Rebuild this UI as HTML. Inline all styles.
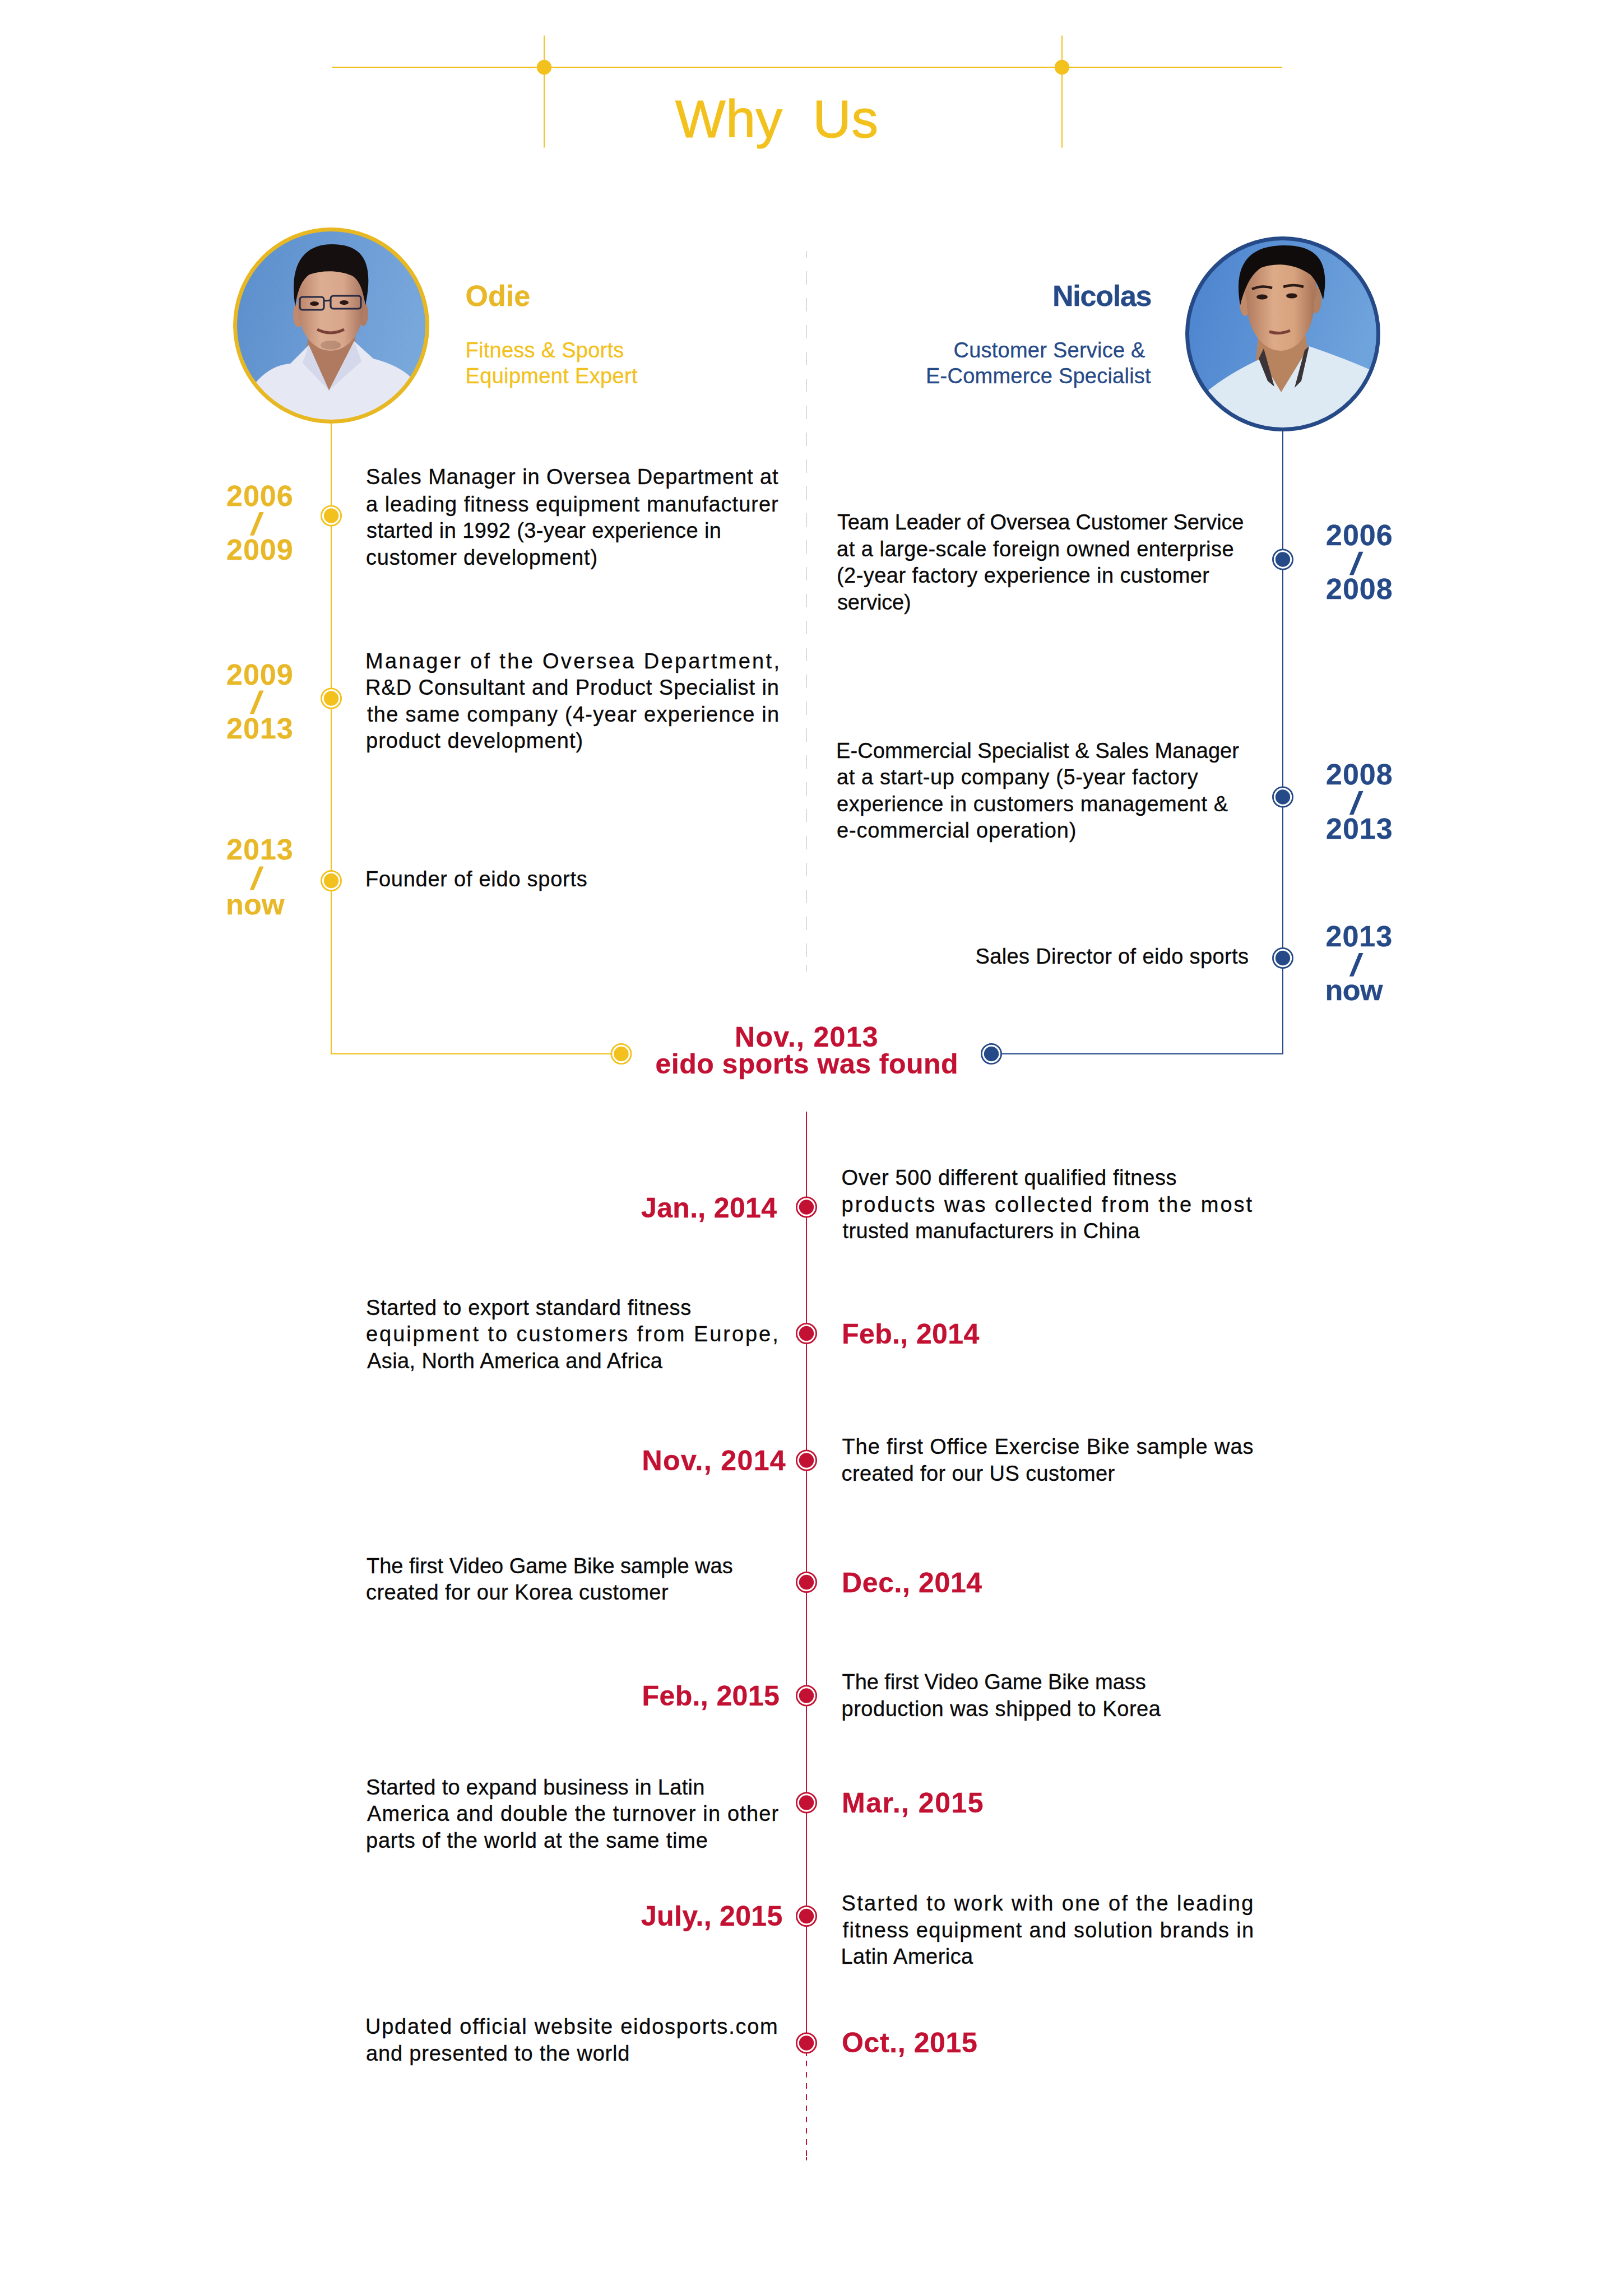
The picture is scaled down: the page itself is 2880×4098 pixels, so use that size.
<!DOCTYPE html>
<html><head><meta charset="utf-8"><title>Why Us</title>
<style>
html,body{margin:0;padding:0;background:#fff}
body{width:2880px;height:4098px;position:relative;overflow:hidden;font-family:"Liberation Sans",sans-serif}
.t{position:absolute;white-space:pre;line-height:1;-webkit-text-stroke:0.35px currentColor;font-family:"Liberation Sans",sans-serif}
svg{position:absolute;left:0;top:0}
</style></head><body>
<svg width="2880" height="4098" viewBox="0 0 2880 4098">
<defs>
<clipPath id="c1"><circle cx="591" cy="581" r="169"/></clipPath>
<clipPath id="c2"><circle cx="2289" cy="596" r="168"/></clipPath>
<linearGradient id="g1" x1="0" y1="0" x2="1" y2="0.3"><stop offset="0" stop-color="#5A8DCC"/><stop offset="1" stop-color="#78A7DB"/></linearGradient>
<linearGradient id="g2" x1="0" y1="0" x2="1" y2="0.3"><stop offset="0" stop-color="#4A82CE"/><stop offset="1" stop-color="#6FA3DC"/></linearGradient>
<linearGradient id="sk1" x1="0" y1="0" x2="1" y2="0"><stop offset="0" stop-color="#B8836A"/><stop offset="0.35" stop-color="#DDAE93"/><stop offset="0.7" stop-color="#D8A68A"/><stop offset="1" stop-color="#A87560"/></linearGradient>
<linearGradient id="sk2" x1="0" y1="0" x2="1" y2="0"><stop offset="0" stop-color="#B27C60"/><stop offset="0.4" stop-color="#DDAB88"/><stop offset="0.7" stop-color="#D7A27E"/><stop offset="1" stop-color="#A97558"/></linearGradient>
</defs>
<g clip-path="url(#c1)">
<rect x="416" y="406" width="350" height="350" fill="url(#g1)"/>
<path d="M551 585 L633 585 L636 640 L587 697 L546 640 Z" fill="#B07A60"/>
<path d="M430 780 L452 688 Q480 652 518 649 L551 616 L587 697 L632 609 L666 640 Q712 652 735 675 L770 780 Z" fill="#E6E8F3"/>
<path d="M551 616 L540 648 L587 697 Z M632 609 L645 645 L587 697 Z" fill="#D4D8EA"/>
<ellipse cx="532" cy="562" rx="9" ry="22" fill="#C08A70"/>
<ellipse cx="648" cy="560" rx="9" ry="22" fill="#B07C64"/>
<ellipse cx="590" cy="530" rx="60" ry="62" fill="url(#sk1)"/><ellipse cx="590" cy="550" rx="58" ry="76" fill="url(#sk1)"/>
<path d="M527 548 C514 468 545 436 592 436 C648 436 668 468 652 545 C648 520 642 500 628 492 C605 482 575 482 552 490 C538 500 530 520 527 548 Z" fill="#15100F"/>
<rect x="535" y="530" width="43" height="23" rx="5" fill="none" stroke="#262A44" stroke-width="3.2"/><rect x="590" y="528" width="54" height="23" rx="5" fill="none" stroke="#262A44" stroke-width="3.2"/><line x1="578" y1="537" x2="590" y2="536" stroke="#262A44" stroke-width="3"/><ellipse cx="561" cy="542" rx="8" ry="4" fill="#2a1814"/><ellipse cx="614" cy="540" rx="8" ry="4" fill="#2a1814"/>
<path d="M566 588 Q590 600 614 588" fill="none" stroke="#7A4038" stroke-width="5"/>
<ellipse cx="590" cy="616" rx="18" ry="8" fill="#5A3A30" opacity="0.25"/>
</g>
<circle cx="591" cy="581" r="171.5" fill="none" stroke="#E8B823" stroke-width="7"/>
<g clip-path="url(#c2)">
<rect x="2115" y="422" width="350" height="350" fill="url(#g2)"/>
<path d="M2245 600 L2330 600 L2338 660 L2286 700 L2240 660 Z" fill="#B8835F"/>
<path d="M2140 790 L2152 700 Q2190 668 2250 640 L2286 700 L2336 618 Q2400 640 2445 660 L2470 790 Z" fill="#DDEAF4"/>
<path d="M2246 640 L2255 622 L2274 690 L2262 680 Z M2336 618 L2322 680 L2310 692 L2328 625 Z" fill="#3A3438"/>
<ellipse cx="2222" cy="540" rx="10" ry="24" fill="#C08A68"/>
<ellipse cx="2348" cy="535" rx="10" ry="24" fill="#B28060"/>
<ellipse cx="2285" cy="515" rx="64" ry="66" fill="url(#sk2)"/><ellipse cx="2285" cy="540" rx="60" ry="86" fill="url(#sk2)"/>
<path d="M2213 545 C2200 470 2230 438 2292 438 C2358 438 2372 475 2361 535 C2355 515 2348 500 2338 490 C2310 470 2275 468 2250 478 C2232 490 2220 515 2213 545 Z" fill="#100C0C"/>
<path d="M2234 516 Q2252 508 2270 514 M2290 512 Q2308 506 2326 512" fill="none" stroke="#2a1a16" stroke-width="4.5"/><ellipse cx="2252" cy="530" rx="10" ry="4.5" fill="#2a1814"/><ellipse cx="2305" cy="528" rx="10" ry="4.5" fill="#2a1814"/>
<path d="M2265 592 Q2284 598 2302 590" fill="none" stroke="#7A4038" stroke-width="5"/>
</g>
<circle cx="2289" cy="596" r="170.5" fill="none" stroke="#264A87" stroke-width="7"/>

<line x1="592" y1="120" x2="2288" y2="120" stroke="#F3C11D" stroke-width="2" /><line x1="971" y1="63.5" x2="971" y2="263.5" stroke="#F3C11D" stroke-width="2" /><line x1="1895" y1="63.5" x2="1895" y2="263.5" stroke="#F3C11D" stroke-width="2" /><circle cx="971" cy="120" r="13.2" fill="#F3C11D"/><circle cx="1895" cy="120" r="13.2" fill="#F3C11D"/><rect x="1438" y="448" width="2" height="12" fill="#DCDCDC"/><rect x="1438" y="484" width="2" height="24" fill="#DCDCDC"/><rect x="1438" y="532" width="2" height="24" fill="#DCDCDC"/><rect x="1438" y="580" width="2" height="24" fill="#DCDCDC"/><rect x="1438" y="628" width="2" height="24" fill="#DCDCDC"/><rect x="1438" y="676" width="2" height="24" fill="#DCDCDC"/><rect x="1438" y="724" width="2" height="24" fill="#DCDCDC"/><rect x="1438" y="772" width="2" height="24" fill="#DCDCDC"/><rect x="1438" y="820" width="2" height="24" fill="#DCDCDC"/><rect x="1438" y="868" width="2" height="24" fill="#DCDCDC"/><rect x="1438" y="916" width="2" height="24" fill="#DCDCDC"/><rect x="1438" y="964" width="2" height="24" fill="#DCDCDC"/><rect x="1438" y="1012" width="2" height="24" fill="#DCDCDC"/><rect x="1438" y="1060" width="2" height="24" fill="#DCDCDC"/><rect x="1438" y="1108" width="2" height="24" fill="#DCDCDC"/><rect x="1438" y="1156" width="2" height="24" fill="#DCDCDC"/><rect x="1438" y="1204" width="2" height="24" fill="#DCDCDC"/><rect x="1438" y="1252" width="2" height="24" fill="#DCDCDC"/><rect x="1438" y="1300" width="2" height="24" fill="#DCDCDC"/><rect x="1438" y="1348" width="2" height="24" fill="#DCDCDC"/><rect x="1438" y="1396" width="2" height="24" fill="#DCDCDC"/><rect x="1438" y="1444" width="2" height="24" fill="#DCDCDC"/><rect x="1438" y="1492" width="2" height="24" fill="#DCDCDC"/><rect x="1438" y="1540" width="2" height="24" fill="#DCDCDC"/><rect x="1438" y="1588" width="2" height="24" fill="#DCDCDC"/><rect x="1438" y="1636" width="2" height="24" fill="#DCDCDC"/><rect x="1438" y="1684" width="2" height="24" fill="#DCDCDC"/><rect x="1438" y="1722" width="2" height="12" fill="#DCDCDC"/><line x1="591" y1="756" x2="591" y2="1882" stroke="#F3C11D" stroke-width="2" /><line x1="590" y1="1881" x2="1108.5" y2="1881" stroke="#F3C11D" stroke-width="2" /><circle cx="591" cy="920.5" r="17.6" fill="#fff" stroke="#F3C11D" stroke-width="2.8"/><circle cx="591" cy="920.5" r="13.2" fill="#F3C11D"/><circle cx="591" cy="1246.5" r="17.6" fill="#fff" stroke="#F3C11D" stroke-width="2.8"/><circle cx="591" cy="1246.5" r="13.2" fill="#F3C11D"/><circle cx="591" cy="1572" r="17.6" fill="#fff" stroke="#F3C11D" stroke-width="2.8"/><circle cx="591" cy="1572" r="13.2" fill="#F3C11D"/><circle cx="1108.5" cy="1881" r="17.6" fill="#fff" stroke="#F3C11D" stroke-width="2.8"/><circle cx="1108.5" cy="1881" r="13.2" fill="#F3C11D"/><line x1="2289" y1="770" x2="2289" y2="1882" stroke="#264A87" stroke-width="2" /><line x1="1769" y1="1881" x2="2290" y2="1881" stroke="#264A87" stroke-width="2" /><circle cx="2289" cy="998.5" r="17.6" fill="#fff" stroke="#264A87" stroke-width="2.8"/><circle cx="2289" cy="998.5" r="13.2" fill="#264A87"/><circle cx="2289" cy="1422.5" r="17.6" fill="#fff" stroke="#264A87" stroke-width="2.8"/><circle cx="2289" cy="1422.5" r="13.2" fill="#264A87"/><circle cx="2289" cy="1710" r="17.6" fill="#fff" stroke="#264A87" stroke-width="2.8"/><circle cx="2289" cy="1710" r="13.2" fill="#264A87"/><circle cx="1769" cy="1881" r="17.6" fill="#fff" stroke="#264A87" stroke-width="2.8"/><circle cx="1769" cy="1881" r="13.2" fill="#264A87"/><line x1="1439" y1="1984" x2="1439" y2="3647" stroke="#C21132" stroke-width="2" /><circle cx="1439" cy="2154.5" r="17.6" fill="#fff" stroke="#C21132" stroke-width="2.8"/><circle cx="1439" cy="2154.5" r="13.2" fill="#C21132"/><circle cx="1439" cy="2380" r="17.6" fill="#fff" stroke="#C21132" stroke-width="2.8"/><circle cx="1439" cy="2380" r="13.2" fill="#C21132"/><circle cx="1439" cy="2606.5" r="17.6" fill="#fff" stroke="#C21132" stroke-width="2.8"/><circle cx="1439" cy="2606.5" r="13.2" fill="#C21132"/><circle cx="1439" cy="2824" r="17.6" fill="#fff" stroke="#C21132" stroke-width="2.8"/><circle cx="1439" cy="2824" r="13.2" fill="#C21132"/><circle cx="1439" cy="3026.5" r="17.6" fill="#fff" stroke="#C21132" stroke-width="2.8"/><circle cx="1439" cy="3026.5" r="13.2" fill="#C21132"/><circle cx="1439" cy="3217.5" r="17.6" fill="#fff" stroke="#C21132" stroke-width="2.8"/><circle cx="1439" cy="3217.5" r="13.2" fill="#C21132"/><circle cx="1439" cy="3420" r="17.6" fill="#fff" stroke="#C21132" stroke-width="2.8"/><circle cx="1439" cy="3420" r="13.2" fill="#C21132"/><circle cx="1439" cy="3646.5" r="17.6" fill="#fff" stroke="#C21132" stroke-width="2.8"/><circle cx="1439" cy="3646.5" r="13.2" fill="#C21132"/><rect x="1438" y="3664" width="2" height="6" fill="#C21132"/><rect x="1438" y="3850" width="2" height="6" fill="#C21132"/><rect x="1438" y="3678" width="2" height="10" fill="#C21132"/><rect x="1438" y="3698" width="2" height="10" fill="#C21132"/><rect x="1438" y="3718" width="2" height="10" fill="#C21132"/><rect x="1438" y="3738" width="2" height="10" fill="#C21132"/><rect x="1438" y="3758" width="2" height="10" fill="#C21132"/><rect x="1438" y="3778" width="2" height="10" fill="#C21132"/><rect x="1438" y="3798" width="2" height="10" fill="#C21132"/><rect x="1438" y="3818" width="2" height="10" fill="#C21132"/><rect x="1438" y="3838" width="2" height="10" fill="#C21132"/><polygon points="445.8,955.7 453.2,955.7 470.5,913.9 462.8,913.9" fill="#E8B828"/><polygon points="445.8,1274.2 453.2,1274.2 470.5,1232.4 462.8,1232.4" fill="#E8B828"/><polygon points="445.8,1588.2 453.2,1588.2 470.5,1546.4 462.8,1546.4" fill="#E8B828"/><polygon points="2407.8,1026.5 2415.2,1026.5 2432.5,984.7 2424.8,984.7" fill="#264A87"/><polygon points="2407.8,1453.9 2415.2,1453.9 2432.5,1412.1 2424.8,1412.1" fill="#264A87"/><polygon points="2407.8,1742.7 2415.2,1742.7 2432.5,1700.9 2424.8,1700.9" fill="#264A87"/>
</svg>
<div class="t" style="left:1205.0px;top:165.0px;font-size:95px;letter-spacing:0.50px;color:#F3C11D;-webkit-text-stroke:1.1px currentColor">Why  Us</div>
<div class="t" style="left:830.5px;top:502.0px;font-size:52px;font-weight:700;color:#E8B828">Odie</div>
<div class="t" style="left:830.5px;top:605.5px;font-size:38px;letter-spacing:0.27px;color:#F3C11D">Fitness &amp; Sports</div>
<div class="t" style="left:830.5px;top:651.5px;font-size:38px;letter-spacing:0.33px;color:#F3C11D">Equipment Expert</div>
<div class="t" style="left:1878.0px;top:502.0px;font-size:52px;font-weight:700;letter-spacing:-1.25px;color:#264A87">Nicolas</div>
<div class="t" style="left:1701.5px;top:605.5px;font-size:38px;letter-spacing:0.24px;color:#264A87">Customer Service &amp;</div>
<div class="t" style="left:1652.0px;top:651.5px;font-size:38px;letter-spacing:0.23px;color:#264A87">E-Commerce Specialist</div>
<div class="t" style="left:653.0px;top:832.0px;font-size:38px;letter-spacing:0.93px;color:#0a0a0a">Sales Manager in Oversea Department at</div>
<div class="t" style="left:653.0px;top:880.5px;font-size:38px;letter-spacing:0.99px;color:#0a0a0a">a leading fitness equipment manufacturer</div>
<div class="t" style="left:654.0px;top:928.0px;font-size:38px;letter-spacing:0.39px;color:#0a0a0a">started in 1992 (3-year experience in</div>
<div class="t" style="left:653.0px;top:975.5px;font-size:38px;letter-spacing:0.80px;color:#0a0a0a">customer development)</div>
<div class="t" style="left:652.0px;top:1160.5px;font-size:38px;letter-spacing:3.32px;color:#0a0a0a">Manager of the Oversea Department,</div>
<div class="t" style="left:652.0px;top:1208.0px;font-size:38px;letter-spacing:0.94px;color:#0a0a0a">R&amp;D Consultant and Product Specialist in</div>
<div class="t" style="left:655.0px;top:1255.5px;font-size:38px;letter-spacing:1.26px;color:#0a0a0a">the same company (4-year experience in</div>
<div class="t" style="left:653.0px;top:1303.0px;font-size:38px;letter-spacing:1.03px;color:#0a0a0a">product development)</div>
<div class="t" style="left:652.0px;top:1549.5px;font-size:38px;letter-spacing:0.74px;color:#0a0a0a">Founder of eido sports</div>
<div class="t" style="left:1494.0px;top:913.0px;font-size:38px;letter-spacing:-0.14px;color:#0a0a0a">Team Leader of Oversea Customer Service</div>
<div class="t" style="left:1493.0px;top:960.5px;font-size:38px;letter-spacing:0.50px;color:#0a0a0a">at a large-scale foreign owned enterprise</div>
<div class="t" style="left:1493.0px;top:1008.0px;font-size:38px;letter-spacing:0.45px;color:#0a0a0a">(2-year factory experience in customer</div>
<div class="t" style="left:1494.0px;top:1055.5px;font-size:38px;letter-spacing:-0.21px;color:#0a0a0a">service)</div>
<div class="t" style="left:1492.0px;top:1320.5px;font-size:38px;letter-spacing:0.08px;color:#0a0a0a">E-Commercial Specialist &amp; Sales Manager</div>
<div class="t" style="left:1493.0px;top:1368.0px;font-size:38px;letter-spacing:0.60px;color:#0a0a0a">at a start-up company (5-year factory</div>
<div class="t" style="left:1493.0px;top:1415.5px;font-size:38px;letter-spacing:0.51px;color:#0a0a0a">experience in customers management &amp;</div>
<div class="t" style="left:1493.0px;top:1463.0px;font-size:38px;letter-spacing:0.80px;color:#0a0a0a">e-commercial operation)</div>
<div class="t" style="left:1740.5px;top:1688.0px;font-size:38px;letter-spacing:0.36px;color:#0a0a0a">Sales Director of eido sports</div>
<div class="t" style="left:404.0px;top:858.6px;font-size:52px;font-weight:700;letter-spacing:1.00px;color:#E8B828">2006</div>
<div class="t" style="left:404.0px;top:955.0px;font-size:52px;font-weight:700;letter-spacing:1.00px;color:#E8B828">2009</div>
<div class="t" style="left:404.0px;top:1177.5px;font-size:52px;font-weight:700;letter-spacing:1.00px;color:#E8B828">2009</div>
<div class="t" style="left:404.0px;top:1273.5px;font-size:52px;font-weight:700;letter-spacing:1.00px;color:#E8B828">2013</div>
<div class="t" style="left:404.0px;top:1490.0px;font-size:52px;font-weight:700;letter-spacing:1.00px;color:#E8B828">2013</div>
<div class="t" style="left:403.0px;top:1587.5px;font-size:52px;font-weight:700;letter-spacing:0.25px;color:#E8B828">now</div>
<div class="t" style="left:2366.0px;top:928.5px;font-size:52px;font-weight:700;letter-spacing:1.00px;color:#264A87">2006</div>
<div class="t" style="left:2366.0px;top:1025.0px;font-size:52px;font-weight:700;letter-spacing:1.00px;color:#264A87">2008</div>
<div class="t" style="left:2366.0px;top:1356.0px;font-size:52px;font-weight:700;letter-spacing:1.00px;color:#264A87">2008</div>
<div class="t" style="left:2366.0px;top:1452.5px;font-size:52px;font-weight:700;letter-spacing:1.00px;color:#264A87">2013</div>
<div class="t" style="left:2365.5px;top:1645.0px;font-size:52px;font-weight:700;letter-spacing:1.00px;color:#264A87">2013</div>
<div class="t" style="left:2364.5px;top:1741.0px;font-size:52px;font-weight:700;letter-spacing:-0.50px;color:#264A87">now</div>
<div class="t" style="left:1311.0px;top:1825.5px;font-size:50px;font-weight:700;letter-spacing:1.33px;color:#C21132">Nov., 2013</div>
<div class="t" style="left:1169.5px;top:1874.0px;font-size:50px;font-weight:700;letter-spacing:0.47px;color:#C21132">eido sports was found</div>
<div class="t" style="left:1144.0px;top:2130.5px;font-size:50px;font-weight:700;letter-spacing:0.33px;color:#C21132">Jan., 2014</div>
<div class="t" style="left:1502.0px;top:2355.5px;font-size:50px;font-weight:700;letter-spacing:0.39px;color:#C21132">Feb., 2014</div>
<div class="t" style="left:1145.5px;top:2581.5px;font-size:50px;font-weight:700;letter-spacing:1.39px;color:#C21132">Nov., 2014</div>
<div class="t" style="left:1502.0px;top:2799.5px;font-size:50px;font-weight:700;letter-spacing:0.61px;color:#C21132">Dec., 2014</div>
<div class="t" style="left:1145.5px;top:3001.5px;font-size:50px;font-weight:700;letter-spacing:0.39px;color:#C21132">Feb., 2015</div>
<div class="t" style="left:1502.0px;top:3193.0px;font-size:50px;font-weight:700;letter-spacing:1.50px;color:#C21132">Mar., 2015</div>
<div class="t" style="left:1144.0px;top:3394.5px;font-size:50px;font-weight:700;letter-spacing:0.30px;color:#C21132">July., 2015</div>
<div class="t" style="left:1502.0px;top:3620.5px;font-size:50px;font-weight:700;letter-spacing:0.61px;color:#C21132">Oct., 2015</div>
<div class="t" style="left:1501.5px;top:2083.0px;font-size:38px;letter-spacing:0.63px;color:#0a0a0a">Over 500 different qualified fitness</div>
<div class="t" style="left:1501.5px;top:2130.5px;font-size:38px;letter-spacing:3.01px;color:#0a0a0a">products was collected from the most</div>
<div class="t" style="left:1503.5px;top:2178.0px;font-size:38px;letter-spacing:0.36px;color:#0a0a0a">trusted manufacturers in China</div>
<div class="t" style="left:653.0px;top:2314.5px;font-size:38px;letter-spacing:0.62px;color:#0a0a0a">Started to export standard fitness</div>
<div class="t" style="left:653.0px;top:2362.0px;font-size:38px;letter-spacing:2.94px;color:#0a0a0a">equipment to customers from Europe,</div>
<div class="t" style="left:655.0px;top:2409.5px;font-size:38px;letter-spacing:0.40px;color:#0a0a0a">Asia, North America and Africa</div>
<div class="t" style="left:1502.5px;top:2563.0px;font-size:38px;letter-spacing:0.89px;color:#0a0a0a">The first Office Exercise Bike sample was</div>
<div class="t" style="left:1501.5px;top:2610.5px;font-size:38px;letter-spacing:0.40px;color:#0a0a0a">created for our US customer</div>
<div class="t" style="left:654.0px;top:2775.5px;font-size:38px;letter-spacing:-0.01px;color:#0a0a0a">The first Video Game Bike sample was</div>
<div class="t" style="left:653.0px;top:2823.0px;font-size:38px;letter-spacing:0.47px;color:#0a0a0a">created for our Korea customer</div>
<div class="t" style="left:1502.5px;top:2983.0px;font-size:38px;letter-spacing:-0.07px;color:#0a0a0a">The first Video Game Bike mass</div>
<div class="t" style="left:1501.5px;top:3030.5px;font-size:38px;letter-spacing:0.53px;color:#0a0a0a">production was shipped to Korea</div>
<div class="t" style="left:653.0px;top:3170.5px;font-size:38px;letter-spacing:0.32px;color:#0a0a0a">Started to expand business in Latin</div>
<div class="t" style="left:655.0px;top:3218.0px;font-size:38px;letter-spacing:1.17px;color:#0a0a0a">America and double the turnover in other</div>
<div class="t" style="left:653.0px;top:3265.5px;font-size:38px;letter-spacing:0.79px;color:#0a0a0a">parts of the world at the same time</div>
<div class="t" style="left:1501.5px;top:3378.0px;font-size:38px;letter-spacing:2.33px;color:#0a0a0a">Started to work with one of the leading</div>
<div class="t" style="left:1503.5px;top:3425.5px;font-size:38px;letter-spacing:1.37px;color:#0a0a0a">fitness equipment and solution brands in</div>
<div class="t" style="left:1500.5px;top:3473.0px;font-size:38px;letter-spacing:0.46px;color:#0a0a0a">Latin America</div>
<div class="t" style="left:652.0px;top:3598.0px;font-size:38px;letter-spacing:1.76px;color:#0a0a0a">Updated official website eidosports.com</div>
<div class="t" style="left:653.0px;top:3645.5px;font-size:38px;letter-spacing:0.82px;color:#0a0a0a">and presented to the world</div>
</body></html>
